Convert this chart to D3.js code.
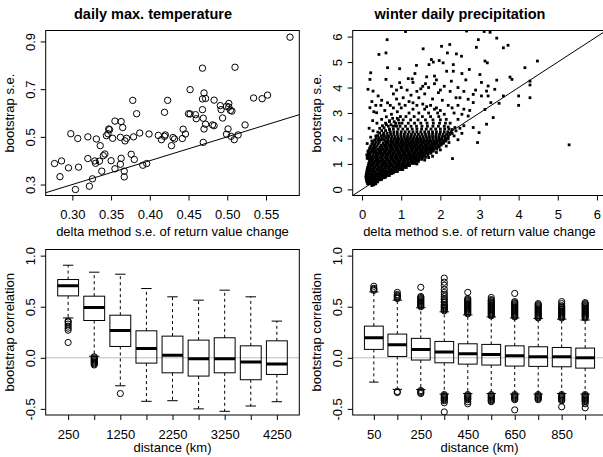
<!DOCTYPE html>
<html>
<head>
<meta charset="utf-8">
<script src="https://cdn.jsdelivr.net/npm/d3@7"></script>
<style>
  body { margin: 0; background: #fff; }
</style>
</head>
<body>
<div id="chart"></div>
<script>
// ---- data ----

// top left: daily max. temperature, [delta s.e., bootstrap s.e.]
const tempPoints = [
  [0.581,0.918],[0.468,0.788],[0.510,0.792],[0.452,0.698],[0.470,0.684],[0.468,0.659],[0.472,0.661],[0.483,0.654],
  [0.378,0.653],[0.423,0.653],[0.534,0.663],[0.545,0.660],[0.552,0.675],[0.491,0.631],[0.492,0.614],[0.502,0.640],
  [0.499,0.628],[0.502,0.625],[0.504,0.611],[0.506,0.608],[0.468,0.614],[0.383,0.597],[0.419,0.603],[0.450,0.597],
  [0.452,0.596],[0.459,0.593],[0.460,0.576],[0.469,0.578],[0.494,0.579],[0.355,0.566],[0.363,0.564],[0.365,0.539],
  [0.347,0.533],[0.348,0.530],[0.470,0.533],[0.472,0.553],[0.481,0.550],[0.483,0.547],[0.523,0.550],[0.443,0.532],
  [0.298,0.513],[0.307,0.493],[0.320,0.500],[0.331,0.491],[0.344,0.505],[0.346,0.513],[0.352,0.494],[0.362,0.498],
  [0.368,0.483],[0.370,0.494],[0.379,0.500],[0.387,0.516],[0.399,0.512],[0.411,0.506],[0.415,0.488],[0.419,0.502],
  [0.420,0.508],[0.430,0.497],[0.432,0.491],[0.428,0.463],[0.442,0.493],[0.446,0.512],[0.469,0.477],[0.499,0.511],
  [0.501,0.533],[0.505,0.502],[0.509,0.488],[0.514,0.508],[0.336,0.463],[0.277,0.388],[0.286,0.399],[0.295,0.370],
  [0.308,0.373],[0.284,0.333],[0.304,0.279],[0.320,0.409],[0.329,0.399],[0.330,0.389],[0.335,0.398],[0.340,0.421],
  [0.342,0.428],[0.350,0.400],[0.338,0.356],[0.326,0.324],[0.322,0.293],[0.355,0.366],[0.362,0.385],[0.363,0.410],
  [0.367,0.356],[0.367,0.332],[0.376,0.427],[0.380,0.405],[0.391,0.381],[0.396,0.388]
];

// top right: winter daily precipitation, dense core as rows [bootstrap s.e., [delta s.e. ...]]
const precipCoreRows = [
  [0.22, [0.14,0.19,0.24,0.30]],
  [0.30, [0.12,0.17,0.22,0.27,0.33,0.39]],
  [0.38, [0.11,0.16,0.21,0.27,0.32,0.37,0.43,0.48]],
  [0.46, [0.10,0.15,0.21,0.26,0.31,0.37,0.42,0.47,0.53,0.57]],
  [0.54, [0.10,0.16,0.22,0.28,0.33,0.39,0.45,0.50,0.56,0.62,0.66]],
  [0.62, [0.11,0.17,0.23,0.29,0.35,0.41,0.47,0.53,0.59,0.65,0.71,0.75]],
  [0.70, [0.12,0.18,0.24,0.30,0.36,0.43,0.49,0.55,0.61,0.67,0.73,0.79,0.84,0.90]],
  [0.78, [0.13,0.19,0.25,0.31,0.38,0.44,0.50,0.56,0.62,0.69,0.75,0.81,0.87,0.92,0.98,1.04]],
  [0.86, [0.14,0.20,0.27,0.33,0.40,0.46,0.52,0.59,0.65,0.71,0.78,0.84,0.90,0.96,1.01,1.07,1.13]],
  [0.94, [0.16,0.22,0.28,0.35,0.41,0.48,0.54,0.60,0.67,0.73,0.79,0.86,0.92,0.98,1.04,1.09,1.15,1.21]],
  [1.02, [0.17,0.24,0.30,0.37,0.43,0.50,0.56,0.62,0.69,0.75,0.82,0.88,0.94,1.01,1.07,1.14,1.21,1.28,1.34]],
  [1.10, [0.19,0.26,0.32,0.39,0.45,0.52,0.58,0.65,0.71,0.78,0.84,0.91,0.97,1.04,1.10,1.17,1.24,1.31,1.38,1.44]],
  [1.18, [0.22,0.28,0.35,0.41,0.48,0.54,0.61,0.67,0.74,0.80,0.87,0.93,1.00,1.06,1.13,1.19,1.26,1.32,1.39,1.46,1.53]],
  [1.22, [0.13,0.18]],
  [1.26, [0.25,0.32,0.38,0.45,0.51,0.58,0.64,0.71,0.77,0.84,0.90,0.97,1.03,1.10,1.16,1.23,1.29,1.36,1.41,1.48,1.55,1.62]],
  [1.30, [0.14,0.20]],
  [1.34, [0.28,0.35,0.41,0.48,0.54,0.61,0.67,0.74,0.80,0.87,0.93,1.00,1.06,1.13,1.19,1.26,1.32,1.39,1.46,1.53,1.60,1.68]],
  [1.38, [0.15,0.21]],
  [1.42, [0.32,0.39,0.45,0.52,0.58,0.65,0.71,0.78,0.84,0.91,0.97,1.04,1.10,1.17,1.23,1.30,1.36,1.43,1.49,1.55,1.62,1.69,1.76]],
  [1.46, [0.16,0.22,0.27]],
  [1.50, [0.36,0.43,0.49,0.56,0.62,0.69,0.75,0.82,0.88,0.95,1.01,1.08,1.14,1.21,1.27,1.34,1.40,1.47,1.53,1.60,1.67,1.74,1.82]],
  [1.54, [0.18,0.25,0.31]],
  [1.58, [0.40,0.47,0.53,0.60,0.66,0.73,0.79,0.86,0.92,0.99,1.05,1.12,1.18,1.25,1.31,1.38,1.44,1.51,1.57,1.64,1.70,1.77,1.84,1.91]],
  [1.62, [0.20,0.27,0.34]],
  [1.66, [0.45,0.51,0.58,0.64,0.71,0.77,0.84,0.90,0.97,1.03,1.10,1.16,1.23,1.29,1.36,1.42,1.49,1.55,1.62,1.68,1.75,1.82,1.89,1.97]],
  [1.70, [0.22,0.30,0.37]],
  [1.74, [0.49,0.56,0.62,0.69,0.75,0.82,0.88,0.95,1.01,1.08,1.14,1.21,1.27,1.34,1.40,1.47,1.53,1.60,1.66,1.73,1.80,1.87,1.94,2.02]],
  [1.78, [0.25,0.33,0.41]],
  [1.82, [0.54,0.61,0.67,0.74,0.80,0.87,0.93,1.00,1.06,1.13,1.19,1.26,1.32,1.39,1.45,1.52,1.58,1.65,1.71,1.78,1.85,1.92,2.00,2.08]],
  [1.86, [0.28,0.36,0.44]],
  [1.90, [0.60,0.66,0.73,0.79,0.86,0.92,0.99,1.05,1.12,1.18,1.25,1.31,1.38,1.44,1.51,1.57,1.64,1.70,1.77,1.84,1.91,1.98,2.06,2.14]],
  [1.94, [0.32,0.40,0.48,0.55]],
  [1.98, [0.66,0.74,0.81,0.88,0.95,1.02,1.09,1.16,1.23,1.30,1.37,1.44,1.51,1.58,1.66,1.73,1.81,1.89,1.96,2.04,2.12,2.20]],
  [2.02, [0.36,0.44,0.52,0.60]],
  [2.07, [0.68,0.76,0.84,0.92,1.00,1.08,1.16,1.24,1.32,1.40,1.48,1.56,1.64,1.72,1.80,1.88,1.96,2.04,2.12,2.20]],
  [2.11, [0.40,0.49,0.57,0.65]],
  [2.16, [0.73,0.81,0.90,0.99,1.08,1.17,1.26,1.35,1.44,1.53,1.62,1.71,1.80,1.89,1.98,2.07,2.16,2.24]],
  [2.21, [0.45,0.55,0.64]],
  [2.26, [0.72,0.81,0.90,1.00,1.10,1.20,1.30,1.40,1.50,1.60,1.70,1.80,1.90,2.00,2.10,2.19,2.28]],
  [2.31, [0.50,0.60]],
  [2.37, [0.70,0.80,0.92,1.04,1.16,1.28,1.40,1.52,1.64,1.76,1.88,2.00,2.11,2.22]],
  [2.42, [0.56]],
  [2.48, [0.67,0.79,0.88,0.97,1.11,1.25,1.39,1.53,1.67,1.81,1.95,2.10]],
  [2.54, [0.62,0.74]],
  [2.60, [0.86,0.95,1.02,1.18,1.34,1.50,1.66,1.82,1.98,2.13]],
  [2.66, [0.70,0.82]],
  [2.73, [0.93,1.05,1.24,1.43,1.62,1.81,2.00]],
  [2.79, [0.78,0.90]],
  [2.86, [0.98,1.12,1.33,1.54,1.75,1.96]],
  [3.00, [1.20,1.45,1.70,1.93]],
  [3.15, [1.30,1.60,1.85]]
];

// top right: scattered points around and away from the core, [delta s.e., bootstrap s.e.]
const precipFringe = [
  [0.12,1.35],[0.15,1.5],[0.2,1.62],[0.13,1.8],[0.25,1.9],[0.3,1.75],[0.22,2.05],[0.35,2.1],[0.28,2.3],[0.4,2.25],
  [0.45,2.4],[0.38,2.6],[0.52,2.5],[0.5,2.75],[0.6,2.6],[0.62,2.85],[0.7,2.7],[0.75,2.95],[0.58,3.1],[0.8,3.2],
  [0.9,3.05],[0.85,2.5],[0.7,2.35],[0.55,2.15],[0.42,1.95],[0.33,1.5],[0.18,2.4],[0.27,2.7],[0.48,3.3],[0.65,3.4],
  [0.72,3.3],[0.95,3.35],[1.0,3.2],[0.88,3.55],[0.3,3.05],[0.17,1.2],
  [1.1,3.3],[1.2,3.45],[1.3,3.4],[1.4,3.3],[1.55,3.35],[1.65,3.25],[1.75,3.3],[1.9,3.2],[2.0,3.1],[2.1,2.95],
  [1.05,3.6],[1.25,3.7],[1.45,3.6],[1.6,3.75],[1.8,3.55],[2.05,3.5],[2.2,3.3],[2.3,3.2],[2.15,2.75],[2.25,2.6],
  [2.2,2.45],[2.3,2.35],[1.15,3.9],[1.4,3.85],[1.7,4.0],[1.95,3.8],[2.4,3.6],[2.35,3.0],[0.8,3.75],[1.0,4.0],
  [1.3,4.2],[1.55,4.05],[1.85,4.15],[2.1,4.05],[2.25,3.85],[2.45,3.3],
  [1.0,0.8],[1.1,0.9],[1.2,0.95],[1.3,1.05],[1.35,1.15],[1.45,1.2],[1.5,1.3],[1.6,1.35],[1.65,1.45],[1.75,1.5],
  [1.8,1.6],[1.9,1.65],[1.95,1.75],[2.05,1.8],[2.1,1.9],[2.15,2.0],[2.2,2.1],[2.3,2.2],[2.35,2.1],[2.4,2.3],
  [1.25,1.2],[1.55,1.45],[1.7,1.6],[1.85,1.75],[2.0,1.95],[2.15,1.7],[1.9,1.45],[1.6,1.15],[1.4,1.0],[1.15,1.0],
  [0.9,0.75],[0.8,0.65],[0.7,0.55],[0.6,0.48],[0.5,0.4],[0.4,0.3],[0.35,0.22],[0.3,0.18],[0.25,0.15],[1.8,1.3],
  [2.0,1.55],[2.5,2.4],[2.55,2.2],[2.6,2.5],[2.45,1.95],[1.7,1.25],
  [1.11,6.2],[2.67,6.22],[3.12,6.2],[3.27,6.17],[0.64,5.88],[2.97,5.88],[3.44,5.94],[3.61,5.56],[3.73,5.66],[2.24,5.69],
  [2.03,5.62],[1.56,5.52],[2.92,5.58],[0.43,5.3],[0.61,5.36],[2.18,5.36],[2.41,5.32],[2.54,5.23],[1.77,5.1],[1.82,5.0],
  [1.71,4.9],[1.97,5.06],[2.07,4.97],[2.33,4.9],[3.14,5.04],[3.2,4.97],[4.48,5.04],[1.39,4.87],[0.65,4.78],[0.96,4.74],
  [0.22,4.58],[0.2,4.32],[0.61,4.32],[0.96,4.19],[1.28,4.34],[1.65,4.42],[1.85,4.45],[2.16,4.64],[2.33,4.64],[2.74,4.71],
  [3.01,4.51],[3.44,4.29],[3.78,4.41],[3.83,4.32],[4.16,4.78],[4.29,4.25],[4.29,4.1],[3.22,4.06],[3.39,3.93],[0.15,3.93],
  [0.28,3.86],[0.41,3.67],[0.88,3.9],[2.84,3.73],[3.05,3.67],[3.18,3.86],[3.22,3.67],[3.29,3.41],[3.5,3.38],[3.61,3.67],
  [4.0,3.67],[4.0,3.3],[4.29,3.6],[2.84,3.41],[2.71,3.54],[2.5,3.6],[0.2,3.21],[0.37,3.01],[3.14,3.14],[3.35,2.82],
  [3.18,2.56],[2.71,2.88],[2.84,2.43],[2.99,2.23],[2.95,1.84],[2.37,2.43],[2.22,1.84],[2.31,1.21],[5.29,1.75],
  [1.5,3.95],[1.62,4.15],[1.9,4.3],[2.0,3.9],[2.28,4.25],[2.45,4.0],[2.6,3.85],[2.65,4.3],[2.55,4.55],[1.35,4.55],
  [1.18,4.35],[0.75,4.05],[0.5,3.5],[0.35,3.3],[0.25,3.45],[2.6,3.15],[2.75,3.1],[2.45,2.75],[2.55,2.95],[2.9,3.9],
  [3.05,4.2]
];

// bottom left: bootstrap correlation by distance, temperature
const distTemp = [250, 750, 1250, 1750, 2250, 2750, 3250, 3750, 4250];
const tempLow  = [0.390, 0.015, -0.274, -0.426, -0.420, -0.500, -0.524, -0.472, -0.430];
const tempQ1   = [0.606, 0.365, 0.111, -0.052, -0.147, -0.179, -0.147, -0.215, -0.163];
const tempMed  = [0.704, 0.492, 0.268, 0.092, 0.026, -0.010, -0.010, -0.042, -0.062];
const tempQ3   = [0.766, 0.603, 0.417, 0.264, 0.212, 0.173, 0.196, 0.117, 0.166];
const tempHigh = [0.906, 0.838, 0.818, 0.678, 0.597, 0.564, 0.662, 0.597, 0.359];
const tempOut  = [
  [0.36, 0.35, 0.33, 0.31, 0.29, 0.27, 0.15],
  [0.01, 0.0, -0.01, -0.02, -0.03, -0.04, -0.05, -0.06, -0.07],
  [-0.35], [], [], [], [], [], []
];

// bottom right: bootstrap correlation by distance, precipitation
const distPrecip = [50, 150, 250, 350, 450, 550, 650, 750, 850, 950];
const precLow  = [-0.238, -0.309, -0.310, -0.355, -0.350, -0.350, -0.355, -0.355, -0.350, -0.355];
const precQ1   = [0.082, 0.013, -0.022, -0.049, -0.062, -0.071, -0.081, -0.084, -0.088, -0.101];
const precMed  = [0.196, 0.127, 0.082, 0.056, 0.039, 0.033, 0.020, 0.010, 0.010, 0.000];
const precQ3   = [0.310, 0.232, 0.190, 0.160, 0.137, 0.131, 0.117, 0.108, 0.101, 0.095];
const precHigh = [0.645, 0.564, 0.490, 0.450, 0.420, 0.400, 0.390, 0.385, 0.378, 0.370];
const precOut  = [
  [0.70,0.68,0.67,0.66],
  [0.64,0.62,0.61,0.60,0.59,0.58,-0.33,-0.34],
  [0.69,0.60,0.59,0.58,0.57,0.56,0.55,0.54,0.53,0.52,0.51,0.50,-0.32,-0.33,-0.34,-0.35],
  [0.78,0.74,0.71,0.67,0.64,0.62,0.60,0.58,0.57,0.55,0.54,0.52,0.51,0.50,0.49,0.48,0.47,0.46,
   -0.36,-0.37,-0.38,-0.39,-0.40,-0.41,-0.42,-0.44,-0.53],
  [0.64,0.58,0.57,0.56,0.55,0.54,0.53,0.52,0.51,0.50,0.49,0.48,0.47,0.46,0.45,0.44,0.43,
   -0.36,-0.37,-0.38,-0.39,-0.40,-0.41,-0.43,-0.45],
  [0.59,0.57,0.56,0.55,0.54,0.53,0.52,0.51,0.50,0.49,0.48,0.47,0.46,0.45,0.44,0.43,0.42,0.41,
   -0.36,-0.37,-0.38,-0.39,-0.40,-0.41,-0.42,-0.43],
  [0.63,0.55,0.54,0.53,0.52,0.51,0.50,0.49,0.48,0.47,0.46,0.45,0.44,0.43,0.42,0.41,0.40,
   -0.36,-0.37,-0.38,-0.39,-0.40,-0.41,-0.51],
  [0.53,0.52,0.51,0.50,0.49,0.48,0.47,0.46,0.45,0.44,0.43,0.42,0.41,0.40,0.39,
   -0.36,-0.37,-0.38,-0.39,-0.40,-0.41],
  [0.55,0.53,0.51,0.50,0.49,0.48,0.47,0.46,0.45,0.44,0.43,0.42,0.41,0.40,0.39,
   -0.36,-0.37,-0.38,-0.39,-0.40,-0.41,-0.42,-0.48],
  [0.54,0.53,0.52,0.51,0.50,0.49,0.48,0.47,0.46,0.45,0.44,0.43,0.42,0.41,0.40,0.39,
   -0.36,-0.37,-0.38,-0.39,-0.40,-0.41,-0.42,-0.43,-0.45,-0.49]
];

// tick values / labels
const tempXTicks = [0.30, 0.35, 0.40, 0.45, 0.50, 0.55];
const tempXLabels = ["0.30", "0.35", "0.40", "0.45", "0.50", "0.55"];
const tempYTicks = [0.3, 0.5, 0.7, 0.9];
const tempYLabels = ["0.3", "0.5", "0.7", "0.9"];
const precipTicks = [0, 1, 2, 3, 4, 5, 6];
const corrTicks = [-0.5, 0, 0.5, 1];
const corrLabels = ["-0.5", "0.0", "0.5", "1.0"];

// ---- layout ----
const FONT = "'Liberation Sans', Arial, Helvetica, sans-serif";
const width = 603, height = 457;

const svg = d3.select("#chart")
    .append("svg")
    .attr("width", width)
    .attr("height", height)
    .attr("font-family", FONT);

const topRow = { top: 30.5, bottom: 195.5, titleGap: 40.5 };
const botRow = { top: 249.5, bottom: 415, titleGap: 37 };
const leftCol = { left: 45.7, right: 299.3 };
const rightCol = { left: 352.7, right: 606.3 };

function panel(col, row, id) {
    const p = { left: col.left, right: col.right, top: row.top, bottom: row.bottom,
                titleGap: row.titleGap, id: id };
    svg.append("clipPath").attr("id", id)
        .append("rect")
        .attr("x", p.left).attr("y", p.top)
        .attr("width", p.right - p.left).attr("height", p.bottom - p.top);
    return p;
}

function frame(p) {
    svg.append("rect")
        .attr("x", p.left).attr("y", p.top)
        .attr("width", p.right - p.left).attr("height", p.bottom - p.top)
        .attr("fill", "none")
        .attr("stroke", "black")
        .attr("stroke-width", 1);
}

function xAxis(p, scale, values, labels) {
    const g = svg.append("g")
        .attr("transform", `translate(0,${p.bottom})`)
        .call(d3.axisBottom(scale).tickValues(values).tickSize(5)
            .tickFormat((d, i) => labels[i]));
    g.select(".domain").remove();
    g.attr("font-size", 13).attr("font-family", FONT);
    g.selectAll("text").attr("y", 23.5).attr("dy", null).attr("fill", "black");
}

function yAxis(p, scale, values, labels) {
    const g = svg.append("g")
        .attr("transform", `translate(${p.left},0)`)
        .call(d3.axisLeft(scale).tickValues(values).tickSize(5)
            .tickFormat((d, i) => labels[i]));
    g.select(".domain").remove();
    g.attr("font-size", 13).attr("font-family", FONT);
    g.selectAll("text")
        .attr("x", 0).attr("y", -10.8).attr("dy", null)
        .attr("text-anchor", "middle")
        .attr("transform", "rotate(-90)")
        .attr("fill", "black");
}

function labels(p, xText, yText) {
    svg.append("text")
        .attr("x", (p.left + p.right) / 2)
        .attr("y", p.bottom + p.titleGap)
        .attr("text-anchor", "middle")
        .attr("font-size", 13)
        .text(xText);
    svg.append("text")
        .attr("transform", `translate(${p.left - 31.5},${(p.top + p.bottom) / 2}) rotate(-90)`)
        .attr("text-anchor", "middle")
        .attr("font-size", 13)
        .text(yText);
}

function title(cx, text) {
    svg.append("text")
        .attr("x", cx)
        .attr("y", 18.5)
        .attr("text-anchor", "middle")
        .attr("font-size", 14.5)
        .attr("font-weight", "bold")
        .text(text);
}

function identityLine(p, x, y) {
    const d = x.domain();
    svg.append("line")
        .attr("clip-path", `url(#${p.id})`)
        .attr("x1", x(d[0])).attr("y1", y(d[0]))
        .attr("x2", x(d[1])).attr("y2", y(d[1]))
        .attr("stroke", "black")
        .attr("stroke-width", 1);
}

// ---- top left: temperature scatter ----
{
    const p = panel(leftCol, topRow, "clipTL");
    const x = d3.scaleLinear().domain([0.2656, 0.593]).range([p.left, p.right]);
    const y = d3.scaleLinear().domain([0.254, 0.946]).range([p.bottom, p.top]);

    svg.append("g").selectAll("circle")
        .data(tempPoints)
        .enter().append("circle")
        .attr("cx", d => x(d[0]))
        .attr("cy", d => y(d[1]))
        .attr("r", 3.2)
        .attr("fill", "none")
        .attr("stroke", "black")
        .attr("stroke-width", 1);

    identityLine(p, x, y);
    frame(p);
    xAxis(p, x, tempXTicks, tempXLabels);
    yAxis(p, y, tempYTicks, tempYLabels);
    labels(p, "delta method s.e. of return value change", "bootstrap s.e.");
    title(153, "daily max. temperature");
}

// ---- top right: precipitation scatter ----
{
    const p = panel(rightCol, topRow, "clipTR");
    const x = d3.scaleLinear().domain([-0.24, 6.24]).range([p.left, p.right]);
    const y = d3.scaleLinear().domain([-0.24, 6.24]).range([p.bottom, p.top]);

    const pts = precipCoreRows.flatMap(r => r[1].map(v => [v, r[0]])).concat(precipFringe);

    svg.append("g")
        .attr("clip-path", "url(#clipTR)")
        .selectAll("rect")
        .data(pts)
        .enter().append("rect")
        .attr("x", d => x(d[0]) - 1.4)
        .attr("y", d => y(d[1]) - 1.4)
        .attr("width", 2.8)
        .attr("height", 2.8)
        .attr("fill", "black");

    identityLine(p, x, y);
    frame(p);
    xAxis(p, x, precipTicks, precipTicks.map(String));
    yAxis(p, y, precipTicks, precipTicks.map(String));
    labels(p, "delta method s.e. of return value change", "bootstrap s.e.");
    title(460, "winter daily precipitation");
}

// ---- boxplots ----
function boxplot(p, cats, low, q1, med, q3, high, outs) {
    const n = cats.length;
    // R pads the 0.5..n+0.5 range by 4% on each side
    const pad = 0.04 * n;
    const x = d3.scaleLinear().domain([0.5 - pad, n + 0.5 + pad]).range([p.left, p.right]);
    const y = d3.scaleLinear().domain([-0.56, 1.06]).range([p.bottom, p.top]);
    const half = 0.4 * (x(1) - x(0));

    // zero reference line
    svg.append("line")
        .attr("x1", p.left).attr("x2", p.right)
        .attr("y1", y(0)).attr("y2", y(0))
        .attr("stroke", "#bebebe")
        .attr("stroke-width", 1);

    const g = svg.append("g").attr("clip-path", `url(#${p.id})`);
    const idx = d3.range(n);

    // whiskers
    g.selectAll(".wu").data(idx).enter().append("line")
        .attr("x1", i => x(i + 1)).attr("x2", i => x(i + 1))
        .attr("y1", i => y(q3[i])).attr("y2", i => y(high[i]))
        .attr("stroke", "black").attr("stroke-dasharray", "3,3");
    g.selectAll(".wl").data(idx).enter().append("line")
        .attr("x1", i => x(i + 1)).attr("x2", i => x(i + 1))
        .attr("y1", i => y(q1[i])).attr("y2", i => y(low[i]))
        .attr("stroke", "black").attr("stroke-dasharray", "3,3");

    // staples
    [high, low].forEach(arr => {
        g.selectAll(null).data(idx).enter().append("line")
            .attr("x1", i => x(i + 1) - half / 2).attr("x2", i => x(i + 1) + half / 2)
            .attr("y1", i => y(arr[i])).attr("y2", i => y(arr[i]))
            .attr("stroke", "black");
    });

    // boxes
    g.selectAll(".box").data(idx).enter().append("rect")
        .attr("x", i => x(i + 1) - half)
        .attr("width", 2 * half)
        .attr("y", i => y(q3[i]))
        .attr("height", i => y(q1[i]) - y(q3[i]))
        .attr("fill", "none")
        .attr("stroke", "black");

    // medians
    g.selectAll(".med").data(idx).enter().append("line")
        .attr("x1", i => x(i + 1) - half).attr("x2", i => x(i + 1) + half)
        .attr("y1", i => y(med[i])).attr("y2", i => y(med[i]))
        .attr("stroke", "black").attr("stroke-width", 3);

    // outliers
    const pts = outs.flatMap((vals, i) => vals.map(v => [i + 1, v]));
    g.selectAll(".out").data(pts).enter().append("circle")
        .attr("cx", d => x(d[0]))
        .attr("cy", d => y(d[1]))
        .attr("r", 3.1)
        .attr("fill", "none")
        .attr("stroke", "black");

    frame(p);
    // ticks at every box, labels only where R has room (every other one)
    xAxis(p, x, idx.map(i => i + 1), cats.map((c, i) => i % 2 === 0 ? String(c) : ""));
    yAxis(p, y, corrTicks, corrLabels);
    labels(p, "distance (km)", "bootstrap correlation");
}

boxplot(panel(leftCol, botRow, "clipBL"), distTemp,
    tempLow, tempQ1, tempMed, tempQ3, tempHigh, tempOut);
boxplot(panel(rightCol, botRow, "clipBR"), distPrecip,
    precLow, precQ1, precMed, precQ3, precHigh, precOut);
</script>
</body>
</html>
